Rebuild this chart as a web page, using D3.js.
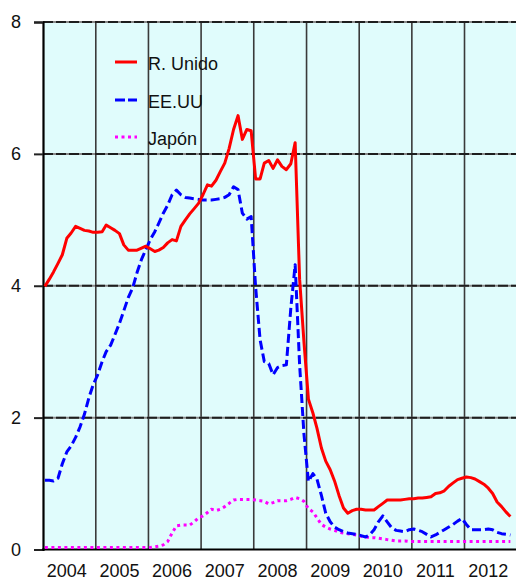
<!DOCTYPE html>
<html>
<head>
<meta charset="utf-8">
<script src="https://cdn.jsdelivr.net/npm/d3@7"></script>
<style>
  html, body { margin: 0; padding: 0; background: #ffffff; }
  svg { display: block; }
  text { font-family: "Liberation Sans", Arial, sans-serif; fill: #111; }
</style>
</head>
<body>
<svg id="chart" width="516" height="581"></svg>
<script>
// ---- data (monthly, starting January 2004) ----
const yearLabels = ["2004", "2005", "2006", "2007", "2008", "2009", "2010", "2011", "2012"];
const yTicks = [0, 2, 4, 6, 8];
const seriesNames = ["R. Unido", "EE.UU", "Japón"];

const ukRates = [
  3.99, 4.10, 4.21, 4.34, 4.47, 4.72, 4.80, 4.90, 4.87, 4.84, 4.83, 4.81,
  4.81, 4.82, 4.92, 4.88, 4.84, 4.79, 4.62, 4.54, 4.54, 4.54, 4.57, 4.60,
  4.56, 4.52, 4.54, 4.58, 4.65, 4.70, 4.68, 4.90, 5.00, 5.09, 5.17, 5.25,
  5.38, 5.53, 5.51, 5.60, 5.73, 5.86, 6.08, 6.37, 6.58, 6.22, 6.37, 6.35,
  5.62, 5.62, 5.86, 5.90, 5.78, 5.91, 5.81, 5.76, 5.85, 6.17, 4.10, 3.15,
  2.28, 2.07, 1.84, 1.54, 1.34, 1.21, 1.04, 0.82, 0.63, 0.55, 0.59, 0.61,
  0.61, 0.60, 0.60, 0.60, 0.65, 0.70, 0.75, 0.75, 0.75, 0.75, 0.76, 0.77,
  0.77, 0.78, 0.78, 0.79, 0.80, 0.85, 0.86, 0.89, 0.96, 1.01, 1.06, 1.08,
  1.10, 1.09, 1.07, 1.03, 0.99, 0.93, 0.85, 0.72, 0.65, 0.57, 0.50
];

const usRates = [
  1.05, 1.05, 1.04, 1.08, 1.30, 1.48, 1.57, 1.70, 1.86, 2.05, 2.30, 2.50,
  2.65, 2.85, 3.00, 3.10, 3.26, 3.43, 3.62, 3.82, 3.97, 4.20, 4.40, 4.55,
  4.70, 4.82, 4.95, 5.10, 5.22, 5.38, 5.45, 5.38, 5.34, 5.33, 5.32, 5.31,
  5.30, 5.30, 5.30, 5.31, 5.32, 5.34, 5.38, 5.50, 5.46, 5.10, 5.01, 5.05,
  3.98, 3.18, 2.85, 2.82, 2.65, 2.76, 2.79, 2.80, 3.66, 4.32, 2.80, 1.75,
  1.03, 1.15, 1.07, 0.82, 0.55, 0.42, 0.34, 0.30, 0.27, 0.25, 0.24, 0.23,
  0.21, 0.19, 0.22, 0.30, 0.42, 0.51, 0.42, 0.33, 0.29, 0.28, 0.27, 0.30,
  0.31, 0.29, 0.27, 0.23, 0.19, 0.22, 0.26, 0.30, 0.34, 0.38, 0.43, 0.47,
  0.38, 0.30, 0.30, 0.30, 0.30, 0.31, 0.30, 0.26, 0.24, 0.23, 0.22
];

const jpRates = [
  0.03, 0.03, 0.03, 0.03, 0.03, 0.03, 0.03, 0.03, 0.03, 0.03, 0.03, 0.03,
  0.03, 0.03, 0.03, 0.03, 0.03, 0.03, 0.03, 0.03, 0.03, 0.03, 0.03, 0.03,
  0.03, 0.04, 0.05, 0.07, 0.12, 0.25, 0.36, 0.37, 0.37, 0.37, 0.42, 0.48,
  0.51, 0.56, 0.61, 0.59, 0.61, 0.65, 0.70, 0.75, 0.76, 0.76, 0.76, 0.76,
  0.75, 0.74, 0.73, 0.69, 0.71, 0.74, 0.74, 0.74, 0.76, 0.79, 0.77, 0.73,
  0.62, 0.57, 0.48, 0.38, 0.34, 0.31, 0.29, 0.26, 0.25, 0.24, 0.23, 0.22,
  0.20, 0.19, 0.18, 0.18, 0.17, 0.16, 0.15, 0.14, 0.13, 0.13, 0.13, 0.12,
  0.12, 0.12, 0.12, 0.12, 0.12, 0.12, 0.12, 0.12, 0.12, 0.12, 0.12, 0.12,
  0.12, 0.12, 0.12, 0.12, 0.12, 0.12, 0.12, 0.12, 0.12, 0.12, 0.12
];

// ---- layout ----
const svg = d3.select("#chart");
const plotLeft = 43, plotTop = 22, plotBottom = 549.5, plotRight = 517.3;

const x = d3.scaleTime()
  .domain([new Date(2004, 0, 1), new Date(2013, 0, 1)])
  .range([plotLeft, plotRight]);
const y = d3.scaleLinear().domain([0, 8]).range([plotBottom, plotTop]);

const dateOf = i => new Date(2004, i, 14);

// background
svg.append("rect")
  .attr("x", plotLeft).attr("y", plotTop)
  .attr("width", plotRight - plotLeft).attr("height", plotBottom - plotTop)
  .attr("fill", "#e0fcfc");

// vertical gridlines at year boundaries
const yearStarts = yearLabels.slice(1).map(l => new Date(+l, 0, 1));
svg.append("g").selectAll("line").data(yearStarts).join("line")
  .attr("x1", d => x(d)).attr("x2", d => x(d))
  .attr("y1", plotTop).attr("y2", plotBottom)
  .attr("stroke", "#3a3a3a").attr("stroke-width", 1.6);

// horizontal gridlines (dashed)
const hg = svg.append("g");
hg.selectAll("line.base").data(yTicks.filter(t => t > 0)).join("line")
  .attr("class", "base")
  .attr("x1", plotLeft).attr("x2", plotRight)
  .attr("y1", d => y(d)).attr("y2", d => y(d))
  .attr("stroke", "#8a8a8a").attr("stroke-width", 2);
hg.selectAll("line.dash").data(yTicks.filter(t => t > 0)).join("line")
  .attr("class", "dash")
  .attr("x1", plotLeft).attr("x2", plotRight)
  .attr("y1", d => y(d)).attr("y2", d => y(d))
  .attr("stroke", "#1e1e1e").attr("stroke-width", 2)
  .attr("stroke-dasharray", "10,3");

// y axis
const yAxis = d3.axisLeft(y).tickValues(yTicks).tickSize(9).tickPadding(13)
  .tickFormat(d3.format("d"));
const ya = svg.append("g").attr("transform", `translate(${plotLeft},0)`).call(yAxis);
ya.select(".domain").attr("stroke", "#000").attr("stroke-width", 2.2);
ya.selectAll(".tick line").attr("stroke", "#222").attr("stroke-width", 2);
ya.selectAll(".tick text")
  .style("font-family", '"Liberation Sans", Arial, sans-serif')
  .style("font-size", "18px").attr("fill", "#111");

// x axis baseline
svg.append("line")
  .attr("x1", plotLeft - 1).attr("x2", plotRight)
  .attr("y1", plotBottom).attr("y2", plotBottom)
  .attr("stroke", "#000").attr("stroke-width", 2.2);

// x labels (centred in each year)
svg.append("g").selectAll("text").data(yearLabels).join("text")
  .attr("x", d => x(new Date(+d, 6, 1)) - 2.5)
  .attr("y", 577)
  .attr("text-anchor", "middle")
  .style("font-size", "18px")
  .text(d => d);

// lines
const lineGen = d3.line()
  .x((d, i) => x(dateOf(i)))
  .y(d => y(d));

const styles = [
  { data: ukRates, color: "#ff0000", dash: null, w: 3 },
  { data: usRates, color: "#0000ff", dash: "9,4", w: 3 },
  { data: jpRates, color: "#ff00ff", dash: "3,3.5", w: 3 }
];

svg.append("clipPath").attr("id", "clip").append("rect")
  .attr("x", plotLeft).attr("y", plotTop - 5)
  .attr("width", plotRight - plotLeft).attr("height", plotBottom - plotTop + 5);

const lines = svg.append("g").attr("clip-path", "url(#clip)");
[styles[2], styles[1], styles[0]].forEach(s => {
  lines.append("path")
    .datum(s.data)
    .attr("d", lineGen)
    .attr("fill", "none")
    .attr("stroke", s.color)
    .attr("stroke-width", s.w)
    .attr("stroke-linejoin", "round")
    .attr("stroke-dasharray", s.dash);
});

// legend
const legY = [62, 100, 137];
const leg = svg.append("g");
styles.forEach((s, i) => {
  leg.append("line")
    .attr("x1", 115).attr("x2", 137)
    .attr("y1", legY[i]).attr("y2", legY[i])
    .attr("stroke", s.color).attr("stroke-width", s.w)
    .attr("stroke-dasharray", i === 1 ? "10,3" : (i === 2 ? "3,3.5" : null));
  leg.append("text")
    .attr("x", 148).attr("y", legY[i] + 8)
    .style("font-size", "18px")
    .text(seriesNames[i]);
});
</script>
</body>
</html>
